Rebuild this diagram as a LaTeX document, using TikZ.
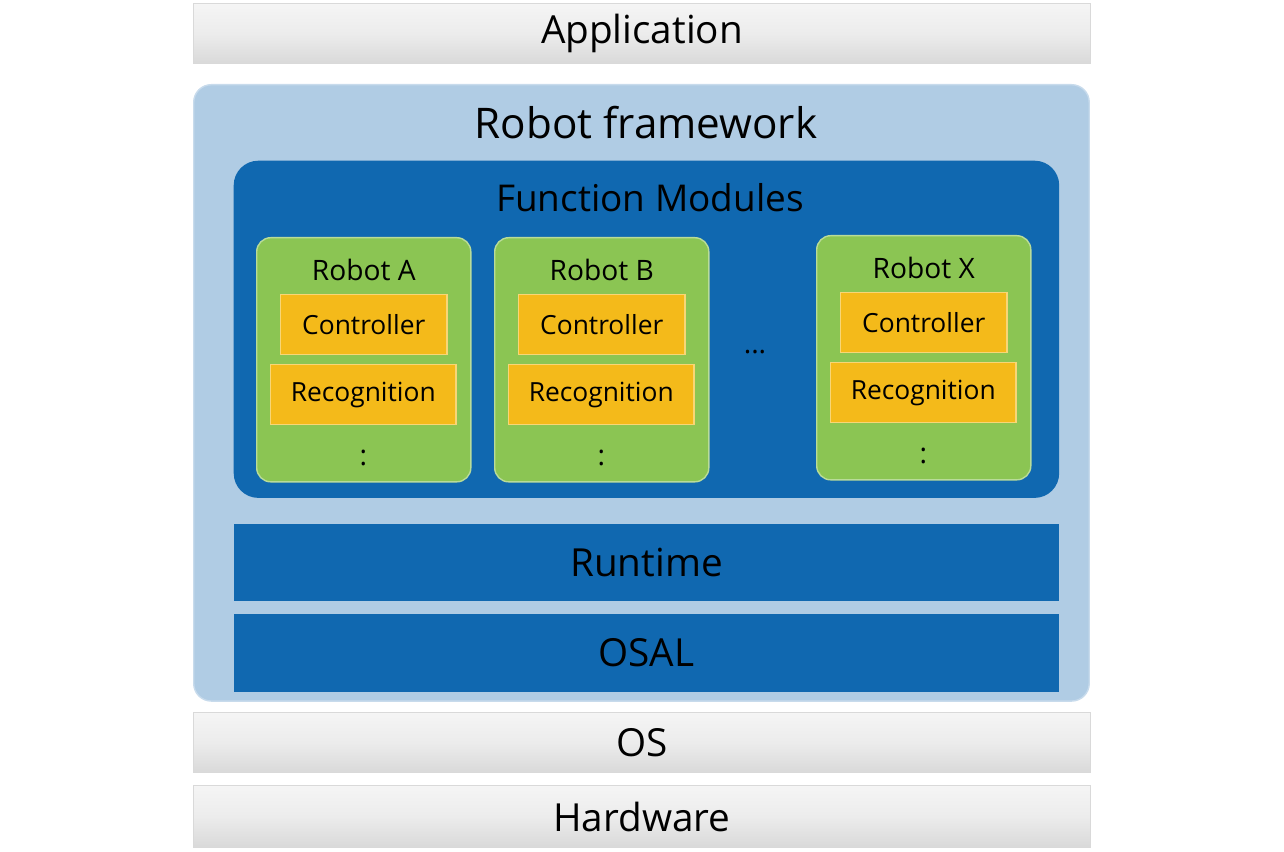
\documentclass[tikz,border=0pt]{standalone}
\usepackage{fontspec}
\setmainfont{Open Sans}
\usetikzlibrary{positioning}
\definecolor{frameblue}{HTML}{B0CCE4}
\definecolor{modblue}{HTML}{1068B0}
\definecolor{robgreen}{HTML}{8BC553}
\definecolor{partorange}{HTML}{F4BA1A}
\begin{document}
\begin{tikzpicture}[x=0.01cm,y=-0.01cm,
    layer/.style={rectangle, draw=gray!30, top color=gray!8, bottom color=gray!30, middle color=gray!15,
        minimum width=8.96cm, minimum height=0.6cm, anchor=north west, inner sep=0pt, font=\fontsize{11}{13}\selectfont},
    frame/.style={rectangle, rounded corners=5pt, fill=frameblue, draw=frameblue!70!white, anchor=north west},
    module/.style={rectangle, fill=modblue, anchor=north west, inner sep=0pt, minimum width=8.25cm},
    robot/.style={rectangle, rounded corners=4pt, fill=robgreen, draw=robgreen!60!white, anchor=north west,
        minimum width=2.14cm, minimum height=2.44cm, inner sep=0pt},
    part/.style={rectangle, fill=partorange, draw=partorange!60!white, anchor=north west,
        minimum height=0.6cm, inner sep=0pt, font=\fontsize{7.5}{9}\selectfont}
]
\useasboundingbox (0,0) rectangle (1284,852);

% outer layers
\node [layer] (App) at (193,3) {Application};
\node [frame, minimum width=8.95cm, minimum height=6.16cm] (Frame) at (193,84) {};
\node [font=\fontsize{12}{14}\selectfont] (FrameTitle) at (646,123) {Robot framework};
\node [module, rounded corners=7pt, minimum height=3.37cm] (Func) at (233,160) {};
\node [font=\fontsize{10.5}{12}\selectfont] (FuncTitle) at (650,198) {Function Modules};

% robots
\foreach \name/\lbl/\x/\y in {A/Robot A/256/237, B/Robot B/494/237, X/Robot X/816/235} {
  \node [robot] (Rob\name) at (\x,\y) {};
  \node [font=\fontsize{8}{10}\selectfont, below=0.1cm of Rob\name.north] (Lbl\name) {\lbl};
  \node [part, minimum width=1.66cm] (Ctrl\name) at (\x+24,\y+57) {Controller};
  \node [part, minimum width=1.85cm] (Rec\name) at (\x+14,\y+127) {Recognition};
  \node [font=\fontsize{8}{10}\selectfont, below=0.12cm of Rec\name.south] (Dots\name) {:};
}
\node [text=black, font=\fontsize{8}{10}\selectfont] (Ellipsis) at (755,352) {...};

% runtime layers
\node [module, minimum height=0.77cm, font=\fontsize{11}{13}\selectfont] (Runtime) at (233,523) {Runtime};
\node [module, minimum height=0.78cm, font=\fontsize{11}{13}\selectfont] (OSAL) at (233,613) {OSAL};

\node [layer] (OS) at (193,712) {OS};
\node [layer, minimum height=0.62cm] (Hw) at (193,785) {Hardware};
\end{tikzpicture}
\end{document}
